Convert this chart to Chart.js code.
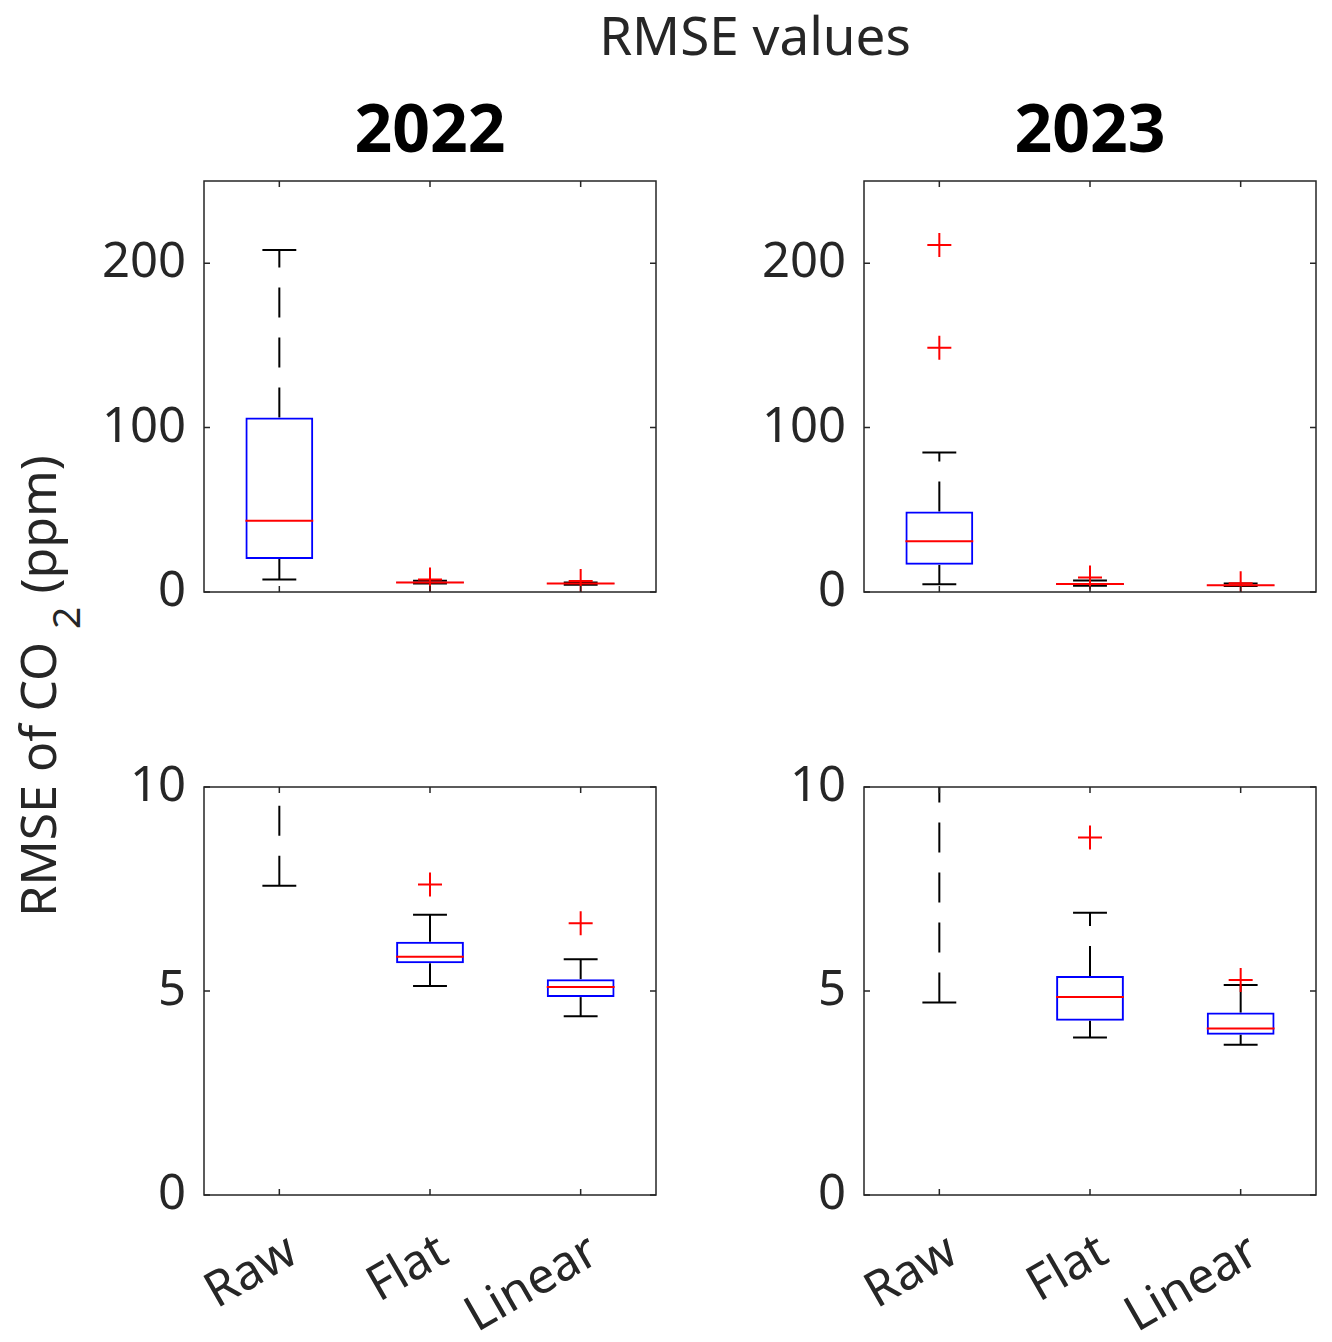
<!DOCTYPE html>
<html>
<head>
<meta charset="utf-8">
<script src="https://cdn.jsdelivr.net/npm/chart.js@4.4.0/dist/chart.umd.min.js"></script>
<style>
  body { margin: 0; background: #fff; width: 1332px; height: 1342px; position: relative; overflow: hidden; font-family: "Noto Sans", sans-serif; color: #262626; }
  .panel { position: absolute; }
  #supTitle { position: absolute; left: 455px; top: 8px; width: 600px; text-align: center; font-size: 53px; line-height: 1; }
  #yLabel { position: absolute; left: -263px; top: 656px; width: 600px; height: 60px; line-height: 60px; text-align: center; font-size: 50px; white-space: nowrap; transform: rotate(-90deg); }
  #yLabel span { font-size: 39px; position: relative; top: 24px; }
</style>
</head>
<body>
<div id="supTitle">RMSE values</div>
<div id="yLabel">RMSE of CO <span>2</span> (ppm)</div>

<div class="panel" style="left:0px;top:88px"><canvas id="c2022top" width="680" height="544"></canvas></div>
<div class="panel" style="left:660px;top:88px"><canvas id="c2023top" width="680" height="544"></canvas></div>
<div class="panel" style="left:0px;top:740px"><canvas id="c2022bot" width="680" height="602"></canvas></div>
<div class="panel" style="left:660px;top:740px"><canvas id="c2023bot" width="680" height="602"></canvas></div>

<script>
const categories = ["Raw", "Flat", "Linear"];

// 2022 box statistics
const lo2022  = [7.58, 5.12, 4.38];
const q1_2022 = [20.1, 5.68, 4.85];
const med2022 = [43.3, 5.84, 5.10];
const q3_2022 = [106.1, 6.21, 5.29];
const hi2022  = [208, 6.87, 5.78];
const out2022 = [[], [7.61], [6.66]];

// 2023 box statistics
const lo2023  = [4.72, 3.86, 3.68];
const q1_2023 = [16.5, 4.27, 3.93];
const med2023 = [30.9, 4.85, 4.08];
const q3_2023 = [49.0, 5.37, 4.47];
const hi2023  = [84.8, 6.92, 5.15];
const out2023 = [[211, 148.6], [8.76], [5.27]];

const topTicks = [0, 100, 200];
const botTicks = [0, 5, 10];

const axisColor = "#262626";

const boxParts = {
  id: "boxParts",
  beforeDatasetsDraw(chart, args, opts) {
    const ctx = chart.ctx;
    const area = chart.chartArea;
    const y = chart.scales.y;
    const bars = chart.getDatasetMeta(0).data;
    ctx.save();
    ctx.beginPath();
    ctx.rect(area.left, area.top, area.right - area.left, area.bottom - area.top);
    ctx.clip();
    ctx.strokeStyle = "#000";
    ctx.lineWidth = 2;
    bars.forEach((bar, i) => {
      const x = bar.x;
      const half = bar.width / 4;
      // whiskers, dash pattern starts from the lower value
      ctx.setLineDash([30, 20]);
      ctx.beginPath();
      ctx.moveTo(x, y.getPixelForValue(opts.q3[i]));
      ctx.lineTo(x, y.getPixelForValue(opts.hi[i]));
      ctx.stroke();
      ctx.beginPath();
      ctx.moveTo(x, y.getPixelForValue(opts.lo[i]));
      ctx.lineTo(x, y.getPixelForValue(opts.q1[i]));
      ctx.stroke();
      // caps
      ctx.setLineDash([]);
      [opts.hi[i], opts.lo[i]].forEach(v => {
        const py = y.getPixelForValue(v);
        ctx.beginPath();
        ctx.moveTo(x - half, py);
        ctx.lineTo(x + half, py);
        ctx.stroke();
      });
    });
    ctx.restore();
  },
  afterDatasetDraw(chart, args, opts) {
    if (args.index !== 0) return;
    const ctx = chart.ctx;
    const area = chart.chartArea;
    const y = chart.scales.y;
    ctx.save();
    ctx.beginPath();
    ctx.rect(area.left, area.top, area.right - area.left, area.bottom - area.top);
    ctx.clip();
    ctx.strokeStyle = "#ff0000";
    ctx.lineWidth = 2;
    args.meta.data.forEach((bar, i) => {
      const py = y.getPixelForValue(opts.med[i]);
      ctx.beginPath();
      ctx.moveTo(bar.x - bar.width / 2, py);
      ctx.lineTo(bar.x + bar.width / 2, py);
      ctx.stroke();
    });
    ctx.restore();
  },
  afterDraw(chart) {
    const ctx = chart.ctx;
    const a = chart.chartArea;
    const tl = 6;
    ctx.save();
    ctx.strokeStyle = axisColor;
    ctx.lineWidth = 1.5;
    ctx.strokeRect(a.left, a.top, a.right - a.left, a.bottom - a.top);
    ctx.beginPath();
    chart.scales.y.ticks.forEach(t => {
      const py = chart.scales.y.getPixelForValue(t.value);
      ctx.moveTo(a.left, py); ctx.lineTo(a.left + tl, py);
      ctx.moveTo(a.right, py); ctx.lineTo(a.right - tl, py);
    });
    chart.scales.x.ticks.forEach((t, i) => {
      const px = chart.scales.x.getPixelForTick(i);
      ctx.moveTo(px, a.bottom); ctx.lineTo(px, a.bottom - tl);
      ctx.moveTo(px, a.top); ctx.lineTo(px, a.top + tl);
    });
    ctx.stroke();
    ctx.restore();
  }
};

function makePanel(id, stats, outliers, yMax, yTicks, title, showLabels) {
  const outPoints = [];
  outliers.forEach((list, i) => list.forEach(v => outPoints.push({ x: categories[i], y: v })));

  new Chart(document.getElementById(id), {
    type: "bar",
    data: {
      labels: categories,
      datasets: [{
        data: stats.q1.map((v, i) => [v, stats.q3[i]]),
        backgroundColor: "rgba(0,0,0,0)",
        borderColor: "#0000ff",
        borderWidth: 2,
        borderSkipped: false,
        barPercentage: 0.45,
        categoryPercentage: 1,
        order: 2
      }, {
        type: "line",
        data: outPoints,
        showLine: false,
        pointStyle: "cross",
        pointRadius: 12,
        pointBorderWidth: 2,
        pointBorderColor: "#ff0000",
        order: 1
      }]
    },
    options: {
      responsive: false,
      animation: false,
      events: [],
      devicePixelRatio: 1,
      layout: {
        autoPadding: false,
        padding: { left: 0, right: 24, top: title ? 0 : 47, bottom: 0 }
      },
      plugins: {
        legend: { display: false },
        tooltip: { enabled: false },
        title: {
          display: !!title,
          text: title,
          fullSize: false,
          color: "#000",
          font: { family: "Noto Sans", size: 66, weight: "bold" },
          padding: { top: 6, bottom: 7.8 }
        },
        boxParts: stats
      },
      scales: {
        x: {
          offset: true,
          grid: { display: false, drawTicks: false },
          border: { display: false },
          ticks: {
            display: showLabels,
            autoSkip: false,
            minRotation: 30,
            maxRotation: 30,
            padding: 28,
            labelOffset: 14,
            color: axisColor,
            font: { family: "Noto Sans", size: 49 }
          },
          afterFit(scale) {
            scale.height = showLabels ? 147 : 40;
            scale.paddingLeft = 0; scale.paddingRight = 0;
            scale.paddingTop = 0; scale.paddingBottom = 0;
          }
        },
        y: {
          min: 0,
          max: yMax,
          grid: { display: false, drawTicks: false },
          border: { display: false },
          ticks: {
            padding: 18,
            color: axisColor,
            font: { family: "Noto Sans", size: 49 }
          },
          afterBuildTicks(scale) { scale.ticks = yTicks.map(v => ({ value: v })); },
          afterFit(scale) {
            scale.width = 204;
            scale.paddingTop = 0; scale.paddingBottom = 0;
            scale.paddingLeft = 0; scale.paddingRight = 0;
          }
        }
      }
    },
    plugins: [boxParts]
  });
}

const stats2022 = { lo: lo2022, q1: q1_2022, med: med2022, q3: q3_2022, hi: hi2022 };
const stats2023 = { lo: lo2023, q1: q1_2023, med: med2023, q3: q3_2023, hi: hi2023 };

makePanel("c2022top", stats2022, out2022, 250, topTicks, "2022", false);
makePanel("c2023top", stats2023, out2023, 250, topTicks, "2023", false);
makePanel("c2022bot", stats2022, out2022, 10, botTicks, "", true);
makePanel("c2023bot", stats2023, out2023, 10, botTicks, "", true);
</script>
</body>
</html>
